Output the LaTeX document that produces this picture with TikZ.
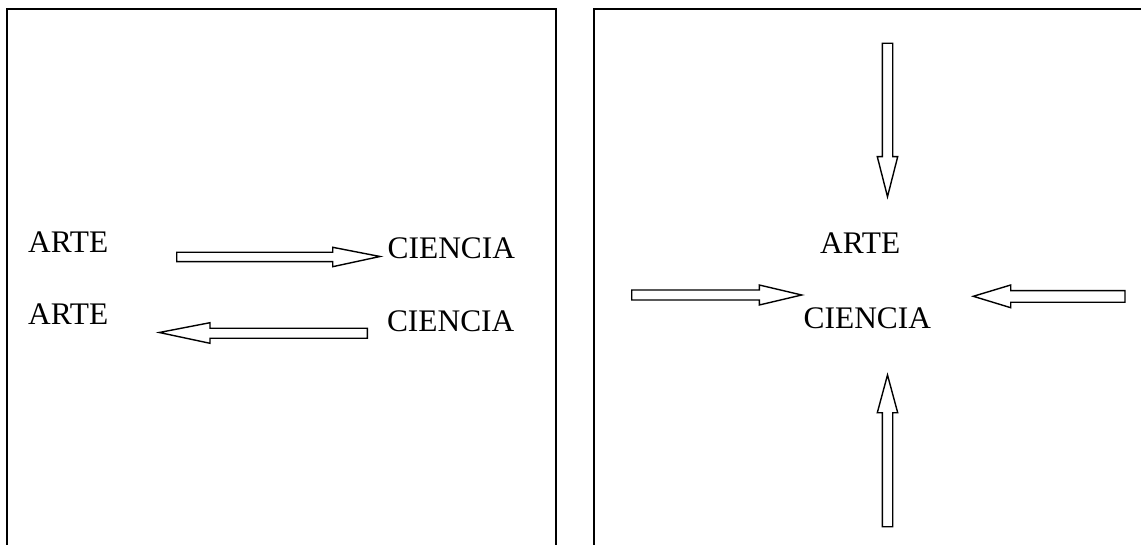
\documentclass[tikz,border=0pt]{standalone}
\usepackage{fontspec}
\setmainfont{Liberation Serif}
\begin{document}
\begin{tikzpicture}[x=1pt,y=-1pt,
  frame/.style={line width=2.2pt,line join=miter},
  blockarrow/.style={draw=black,fill=white,line width=1.4pt,line join=miter},
  lbl/.style={anchor=base west,inner sep=0pt,font=\fontsize{31.4}{36}\selectfont}]
\useasboundingbox (0,0) rectangle (1141,545);
% frames
\draw[frame] (7,546) -- (7,9) -- (556,9) -- (556,546);
\draw[frame] (594.3,546) -- (594.3,9) -- (1142,9);
% labels left
\node[lbl] (arteA) at (28,252.3) {ARTE};
\node[lbl] (arteB) at (28,325) {ARTE};
\node[lbl] (cienA) at (387.5,259) {CIENCIA};
\node[lbl] (cienB) at (386.8,331.7) {CIENCIA};
% labels right
\node[lbl] (arteC) at (820,254) {ARTE};
\node[lbl] (cienC) at (803.5,329) {CIENCIA};
% arrows left box
\draw[blockarrow] (176.7,252.3) -- (332.7,252.3) -- (332.7,247.3) -- (380,256.5) -- (332.7,266.7) -- (332.7,261.7) -- (176.7,261.7) -- cycle;
\draw[blockarrow] (367.3,328.3) -- (210,328.3) -- (210,322.7) -- (159.3,332.5) -- (210,343.3) -- (210,338.3) -- (367.3,338.3) -- cycle;
% arrows right box
\draw[blockarrow] (882.3,43.3) -- (892.7,43.3) -- (892.7,156.7) -- (897.7,156.7) -- (887.5,196.7) -- (877.3,156.7) -- (882.3,156.7) -- cycle;
\draw[blockarrow] (882.3,526.7) -- (892.7,526.7) -- (892.7,412.7) -- (897.7,412.7) -- (887.5,375) -- (877.3,412.7) -- (882.3,412.7) -- cycle;
\draw[blockarrow] (631.7,290) -- (759.3,290) -- (759.3,285) -- (801.7,295) -- (759.3,305) -- (759.3,300) -- (631.7,300) -- cycle;
\draw[blockarrow] (1125,290.7) -- (1010.7,290.7) -- (1010.7,285) -- (973.3,296.3) -- (1010.7,307.7) -- (1010.7,302.3) -- (1125,302.3) -- cycle;
\end{tikzpicture}
\end{document}
